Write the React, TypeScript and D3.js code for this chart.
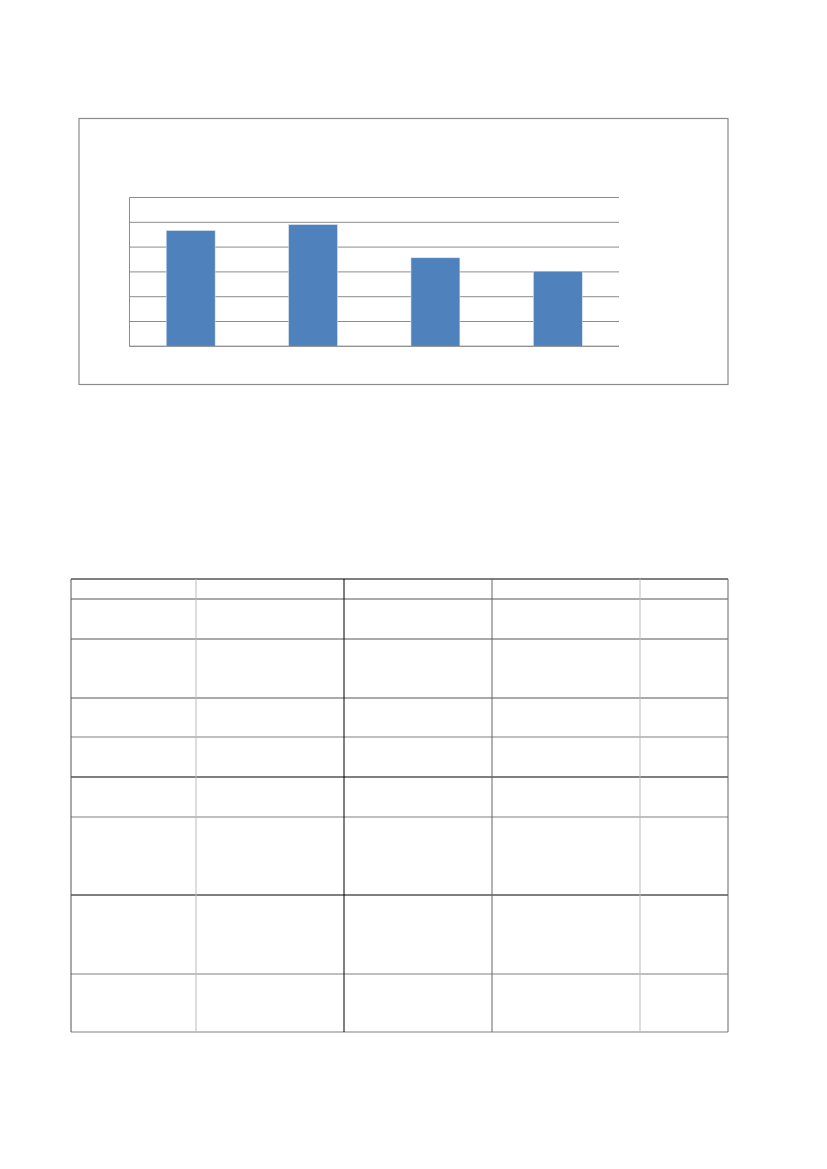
import React, { useEffect, useRef } from 'react';
import * as d3 from 'd3';

// chart data (no labels are printed in the reference)
const categories = ['A', 'B', 'C', 'D'];
const values = [46.7, 49.1, 35.7, 30.3];
const yTicks = [0, 10, 20, 30, 40, 50, 60];

// empty table grid: column boundaries and row heights
const colEdges = [71, 196, 344, 492, 640, 728];
const rowEdges = [579, 599, 639, 698, 737, 777, 817, 895, 974, 1032];
const colColors = ['#555', '#bbb', '#000', '#666', '#bbb', '#666'];
const rowColors = ['#000', '#555', '#555', '#555', '#aaa', '#000', '#aaa', '#000', '#aaa', '#aaa'];
const rowWidths = [1, 1, 1, 1, 1.5, 1, 1.5, 1, 1.5, 1.5];

const App: React.FC = () => {
  const svgRef = useRef<SVGSVGElement>(null);

  useEffect(() => {
    if (!svgRef.current) return;
    const svg = d3.select(svgRef.current);
    svg.selectAll('*').remove();

    // chart frame
    svg.append('rect')
      .attr('x', 79).attr('y', 118.5)
      .attr('width', 649).attr('height', 266)
      .attr('fill', 'white')
      .attr('stroke', '#8a8a8a')
      .attr('stroke-width', 1.2);

    const left = 129.5, right = 619, top = 197.5, bottom = 346.3;

    const x = d3.scaleBand<string>()
      .domain(categories)
      .range([left, right])
      .paddingInner(0.6)
      .paddingOuter(0.3);

    const y = d3.scaleLinear()
      .domain([0, 60])
      .range([bottom, top]);

    // gridlines
    svg.append('g')
      .selectAll('line')
      .data(yTicks)
      .join('line')
      .attr('x1', left).attr('x2', right)
      .attr('y1', d => y(d)).attr('y2', d => y(d))
      .attr('stroke', '#8c8c8c')
      .attr('stroke-width', 1);

    // y axis line
    svg.append('line')
      .attr('x1', left).attr('x2', left)
      .attr('y1', top).attr('y2', bottom)
      .attr('stroke', '#8c8c8c');

    // bars
    svg.append('g')
      .selectAll('rect')
      .data(values)
      .join('rect')
      .attr('x', (_, i) => x(categories[i])!)
      .attr('y', d => y(d))
      .attr('width', x.bandwidth())
      .attr('height', d => bottom - y(d))
      .attr('fill', '#4f81bd')
      .attr('stroke', '#dce6f2')
      .attr('stroke-width', 0.6);

    // bottom axis line on top of bars
    svg.append('line')
      .attr('x1', left).attr('x2', right)
      .attr('y1', bottom).attr('y2', bottom)
      .attr('stroke', '#8c8c8c');

    // table grid
    const t = svg.append('g');
    t.selectAll('line.row')
      .data(rowEdges)
      .join('line')
      .attr('class', 'row')
      .attr('x1', colEdges[0]).attr('x2', colEdges[colEdges.length - 1])
      .attr('y1', d => d).attr('y2', d => d)
      .attr('stroke', (_, i) => rowColors[i])
      .attr('stroke-width', (_, i) => rowWidths[i]);

    t.selectAll('line.col')
      .data(colEdges)
      .join('line')
      .attr('class', 'col')
      .attr('x1', d => d).attr('x2', d => d)
      .attr('y1', rowEdges[0]).attr('y2', rowEdges[rowEdges.length - 1])
      .attr('stroke', (_, i) => colColors[i])
      .attr('stroke-width', 1);
  }, []);

  return (
    <svg
      ref={svgRef}
      width={827}
      height={1169}
      style={{ position: 'absolute', left: 0, top: 0, background: 'white' }}
    />
  );
};

export default App;
